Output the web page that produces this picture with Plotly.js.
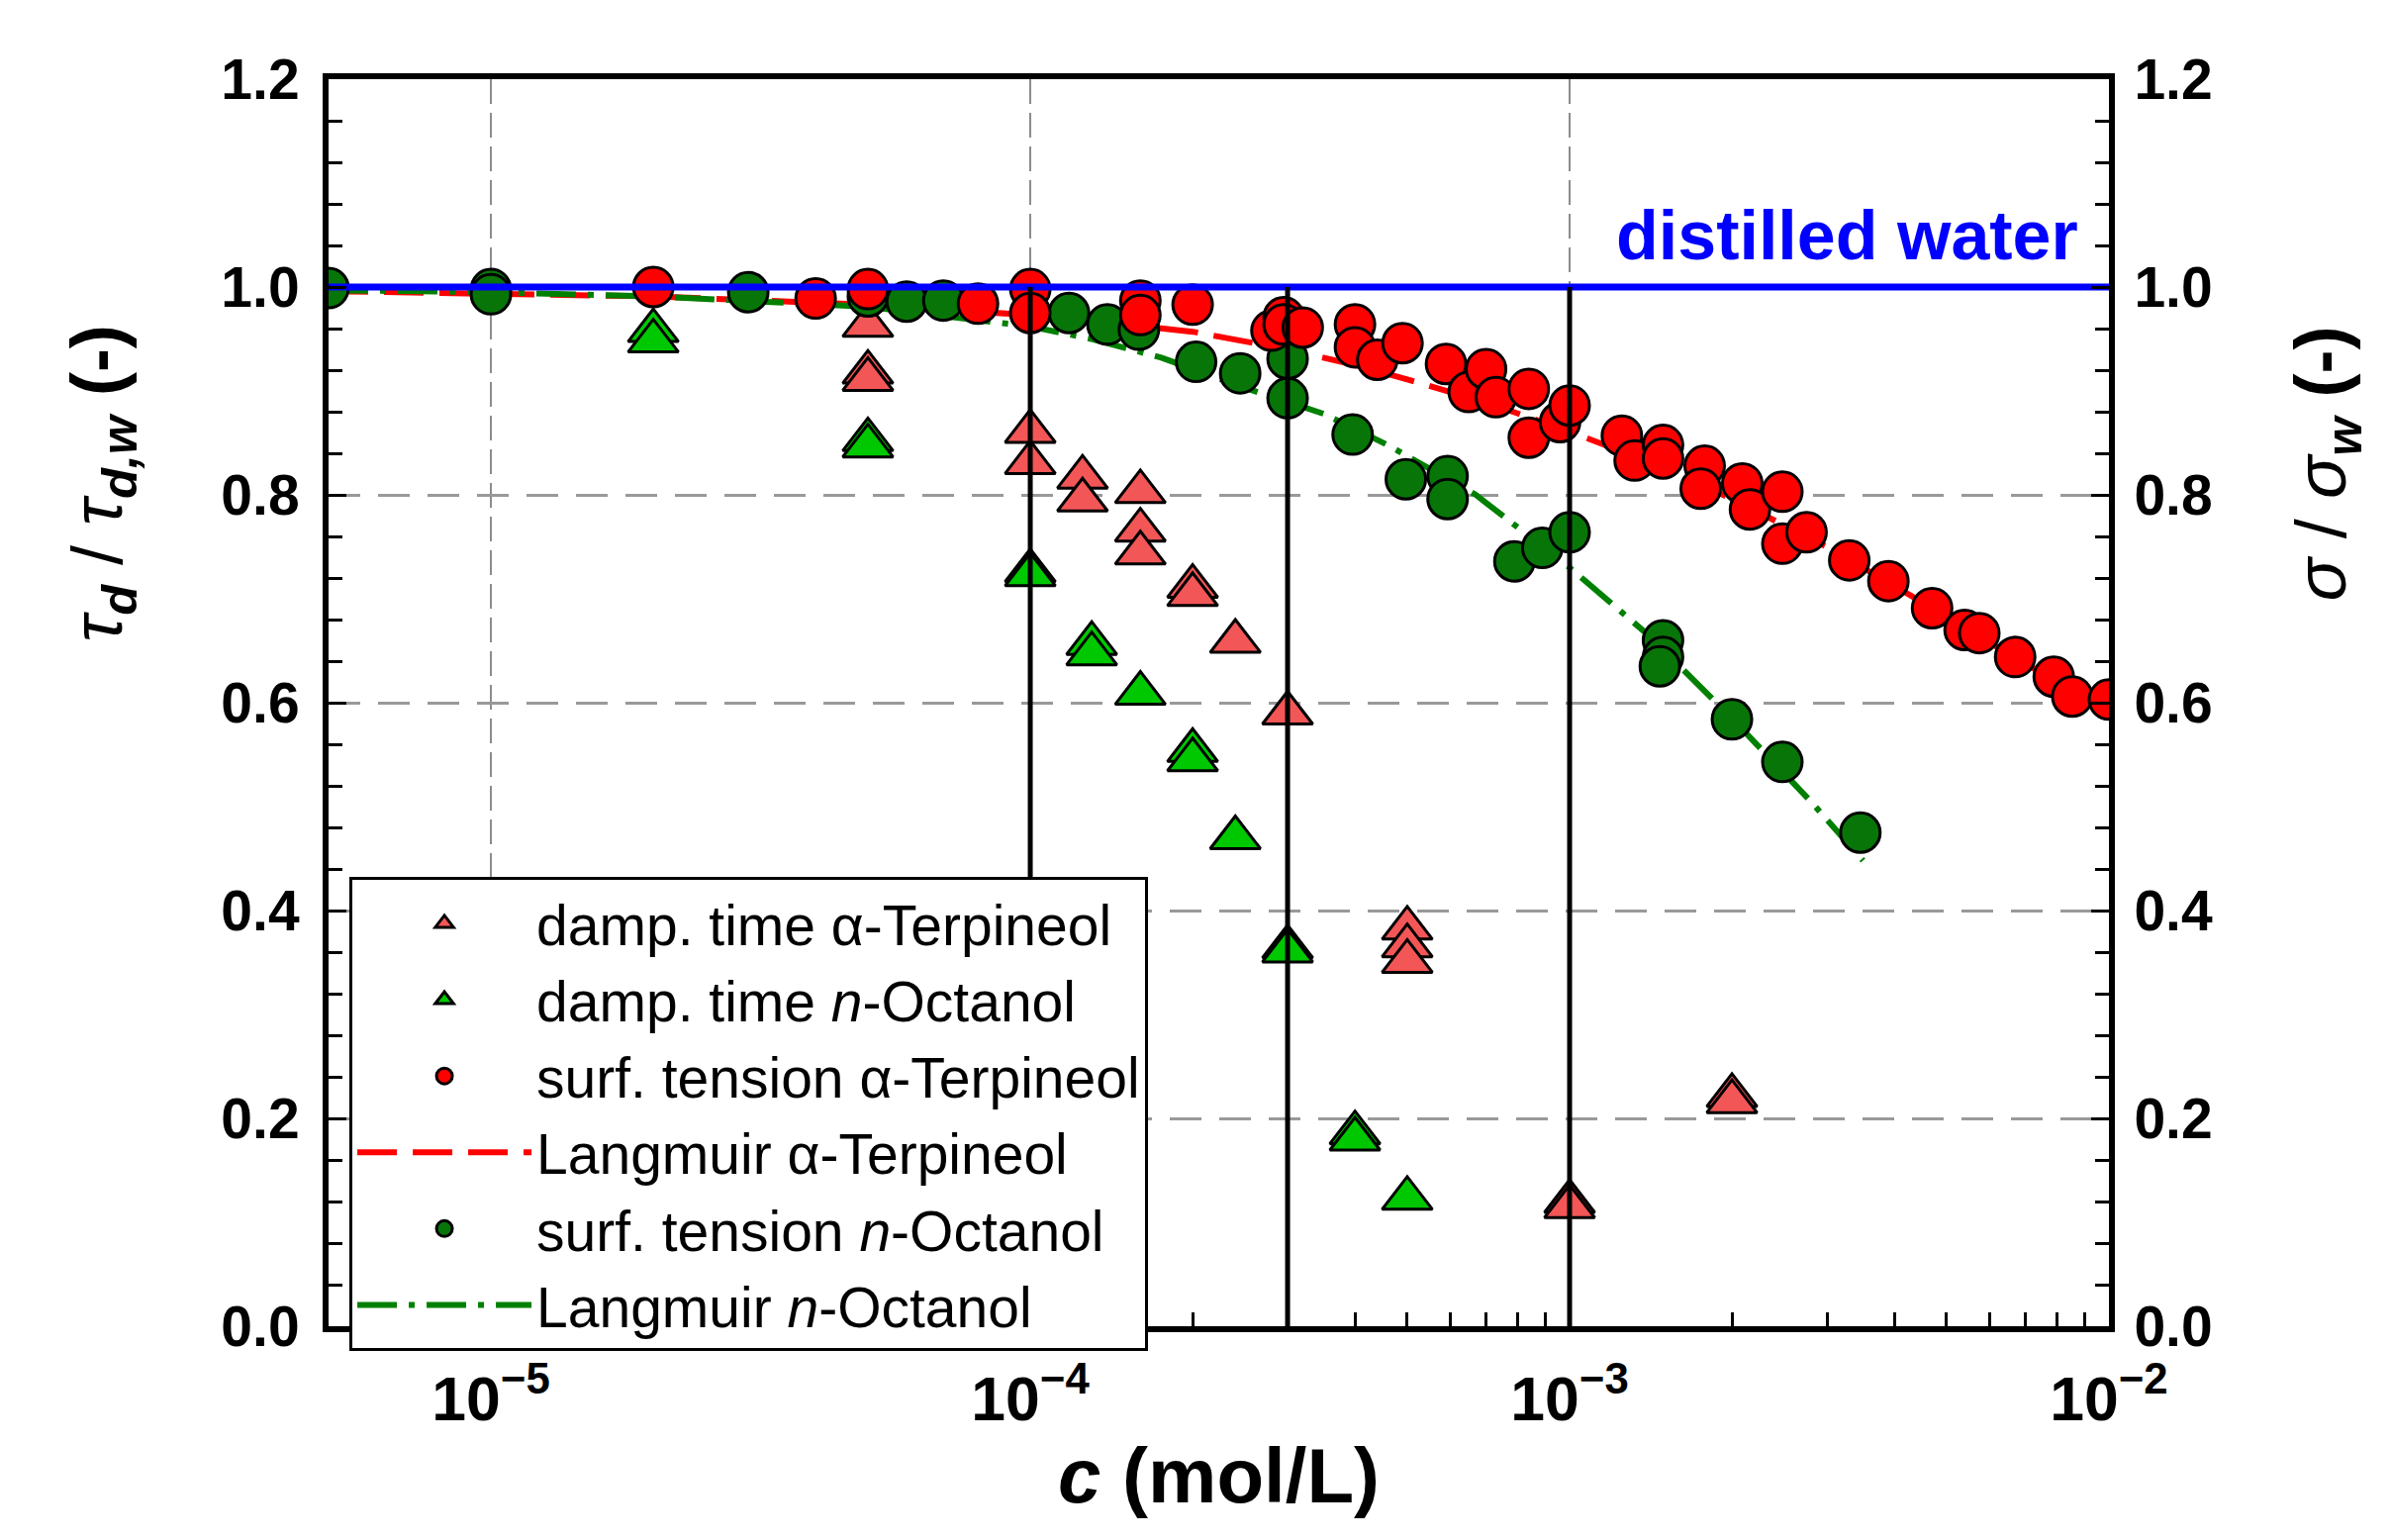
<!DOCTYPE html>
<html>
<head>
<meta charset="utf-8">
<script src="https://cdn.plot.ly/plotly-3.0.1.min.js"></script>
<style>
  html, body { margin: 0; padding: 0; background: #fff; }
  #chart { width: 2416px; height: 1556px; }
</style>
</head>
<body>
<div id="chart"></div>
<script>
// damping time, alpha-Terpineol (left axis)
var dampTerpC = [5e-5, 5e-5, 5e-5, 1e-4, 1e-4, 1.25e-4, 1.25e-4, 1.6e-4, 1.6e-4, 1.6e-4,
                 2e-4, 2e-4, 2.4e-4, 3e-4, 5e-4, 5e-4, 5e-4, 1e-3, 1e-3, 2e-3, 2e-3];
var dampTerpY = [0.963, 0.918, 0.911, 0.861, 0.831, 0.817, 0.795, 0.803, 0.766, 0.744,
                 0.712, 0.704, 0.659, 0.590, 0.383, 0.366, 0.351, 0.120, 0.115, 0.222, 0.216];

// damping time, n-Octanol (left axis)
var dampOctC = [2e-5, 2e-5, 5e-5, 5e-5, 1e-4, 1e-4, 1.3e-4, 1.3e-4, 1.6e-4, 2e-4, 2e-4,
                2.4e-4, 3e-4, 3e-4, 4e-4, 4e-4, 5e-4];
var dampOctY = [0.958, 0.948, 0.853, 0.847, 0.727, 0.723, 0.657, 0.647, 0.609, 0.554, 0.545,
                0.470, 0.365, 0.361, 0.186, 0.180, 0.123];

// surface tension, alpha-Terpineol (right axis)
var surfTerpC = [2e-5, 4e-5, 5e-5, 8e-5, 1e-4, 1e-4, 1.6e-4, 1.6e-4, 2e-4, 2.8e-4,
                 2.95e-4, 2.95e-4, 3.2e-4, 4e-4, 4e-4, 4.4e-4, 4.9e-4, 5.9e-4, 6.5e-4, 7e-4,
                 7.3e-4, 8.4e-4, 8.4e-4, 9.6e-4, 1e-3, 1.25e-3, 1.32e-3, 1.49e-3, 1.49e-3, 1.78e-3,
                 1.75e-3, 2.09e-3, 2.16e-3, 2.48e-3, 2.48e-3, 2.75e-3, 3.3e-3, 3.9e-3, 4.7e-3, 5.4e-3,
                 5.75e-3, 6.7e-3, 7.9e-3, 8.55e-3, 1e-2];
var surfTerpY = [1.000, 0.989, 0.998, 0.984, 0.998, 0.975, 0.987, 0.973, 0.983, 0.958,
                 0.971, 0.964, 0.961, 0.964, 0.942, 0.930, 0.946, 0.926, 0.899, 0.921,
                 0.894, 0.902, 0.855, 0.870, 0.886, 0.857, 0.833, 0.848, 0.835, 0.828,
                 0.806, 0.811, 0.786, 0.803, 0.753, 0.764, 0.737, 0.717, 0.691, 0.670,
                 0.667, 0.644, 0.625, 0.606, 0.603];

// surface tension, n-Octanol (right axis)
var surfOctC = [5e-6, 1e-5, 1e-5, 3e-5, 5e-5, 5.9e-5, 6.9e-5, 1.18e-4, 1.39e-4, 1.59e-4,
                2.03e-4, 2.45e-4, 3e-4, 3e-4, 3.96e-4, 4.97e-4, 5.94e-4, 5.94e-4, 7.9e-4, 8.9e-4,
                1e-3, 1.49e-3, 1.49e-3, 1.47e-3, 2e-3, 2.48e-3, 3.46e-3];
var surfOctY = [0.999, 0.998, 0.993, 0.995, 0.991, 0.986, 0.987, 0.975, 0.964, 0.959,
                0.928, 0.917, 0.931, 0.893, 0.858, 0.815, 0.818, 0.796, 0.736, 0.749,
                0.764, 0.660, 0.644, 0.635, 0.584, 0.543, 0.475];

// Langmuir fits (right axis)
var langTerpC = [5e-6, 1e-5, 2e-5, 5e-5, 1e-4, 1.5e-4, 2e-4, 3e-4, 4e-4, 5e-4,
                 7e-4, 1e-3, 1.5e-3, 2e-3, 3e-3, 5e-3, 7e-3, 1e-2];
var langTerpY = [0.996, 0.994, 0.991, 0.983, 0.973, 0.964, 0.957, 0.940, 0.925, 0.911,
                 0.889, 0.861, 0.826, 0.796, 0.750, 0.683, 0.637, 0.597];
var langOctC = [5e-6, 1e-5, 2e-5, 5e-5, 1e-4, 1.3e-4, 1.75e-4, 2.5e-4, 3.5e-4, 4.6e-4,
                6.7e-4, 1e-3, 1.4e-3, 2e-3, 2.8e-3, 3.5e-3];
var langOctY = [0.997, 0.995, 0.991, 0.981, 0.962, 0.950, 0.932, 0.903, 0.878, 0.848,
                0.800, 0.730, 0.665, 0.585, 0.505, 0.448];

// reference lines
var waterC = [5e-6, 1e-2];
var waterY = [1, 1];
var markC = [1e-4, 3e-4, 1e-3];
var markTop = 1.0;

var FONT = "Liberation Sans, Arial, Helvetica, sans-serif";

var vx = [], vy = [];
for (var i = 0; i < markC.length; i++) {
    vx.push(markC[i], markC[i], null);
    vy.push(0, markTop, null);
}

var triSize = 44, circSize = 40;

var traces = [
    {
        x: dampTerpC, y: dampTerpY, type: 'scatter', mode: 'markers',
        name: 'damp. time α-Terpineol', legendrank: 1, yaxis: 'y',
        marker: {symbol: 'triangle-up', size: triSize, color: '#f25656', line: {color: '#000', width: 3}}
    },
    {
        x: dampOctC, y: dampOctY, type: 'scatter', mode: 'markers',
        name: 'damp. time <i>n</i>-Octanol', legendrank: 2, yaxis: 'y',
        marker: {symbol: 'triangle-up', size: triSize, color: '#00c800', line: {color: '#000', width: 3}}
    },
    {
        x: langTerpC, y: langTerpY, type: 'scatter', mode: 'lines',
        name: 'Langmuir α-Terpineol', legendrank: 4, yaxis: 'y2',
        line: {color: '#ff0000', width: 6, dash: '40px,16px'}
    },
    {
        x: langOctC, y: langOctY, type: 'scatter', mode: 'lines',
        name: 'Langmuir <i>n</i>-Octanol', legendrank: 6, yaxis: 'y2',
        line: {color: '#008000', width: 6, dash: '40px,12px,6px,12px'}
    },
    {
        x: surfOctC, y: surfOctY, type: 'scatter', mode: 'markers',
        name: 'surf. tension <i>n</i>-Octanol', legendrank: 5, yaxis: 'y2',
        marker: {symbol: 'circle', size: circSize, color: '#087508', line: {color: '#000', width: 3}}
    },
    {
        x: surfTerpC, y: surfTerpY, type: 'scatter', mode: 'markers',
        name: 'surf. tension α-Terpineol', legendrank: 3, yaxis: 'y2',
        marker: {symbol: 'circle', size: circSize, color: '#ff0000', line: {color: '#000', width: 3}}
    },
    {
        x: waterC, y: waterY, type: 'scatter', mode: 'lines', showlegend: false, yaxis: 'y2',
        line: {color: '#0000ff', width: 7}
    },
    {
        x: vx, y: vy, type: 'scatter', mode: 'lines', showlegend: false, yaxis: 'y2',
        line: {color: '#000', width: 5}
    }
];

var tickFont = {family: FONT, size: 57, color: '#000', weight: 'bold'};

var layout = {
    width: 2416,
    height: 1556,
    margin: {l: 332, r: 285, t: 80, b: 216},
    paper_bgcolor: '#fff',
    plot_bgcolor: '#fff',
    showlegend: true,
    hovermode: false,
    font: {family: FONT, color: '#000'},
    xaxis: {
        type: 'log',
        range: [Math.log10(5e-6), -2],
        tickmode: 'linear', tick0: 0, dtick: 1,
        exponentformat: 'power',
        ticks: 'inside', ticklen: 16, tickwidth: 3, tickcolor: '#000',
        minor: {dtick: 'D1', ticks: 'inside', ticklen: 14, tickwidth: 3, tickcolor: '#000', showgrid: false},
        ticklabelstandoff: 16,
        tickfont: {family: FONT, size: 50, color: '#000', weight: 'bold'},
        showline: true, linewidth: 6, linecolor: '#000', mirror: true,
        showgrid: true, gridcolor: '#8c8c8c', gridwidth: 2, griddash: '25px,9px',
        zeroline: false,
        title: {text: '<i>c</i> (mol/L)', font: {family: FONT, size: 78, color: '#000', weight: 'bold'}, standoff: 0}
    },
    yaxis: {
        range: [0, 1.2],
        dtick: 0.2, tick0: 0,
        tickformat: '.1f',
        ticks: 'inside', ticklen: 18, tickwidth: 3, tickcolor: '#000',
        minor: {dtick: 0.04, ticks: 'inside', ticklen: 14, tickwidth: 3, tickcolor: '#000', showgrid: false},
        ticklabelstandoff: 12,
        tickfont: tickFont,
        showline: true, linewidth: 6, linecolor: '#000',
        showgrid: true, gridcolor: '#999', gridwidth: 3, griddash: '32px,18px',
        zeroline: false
    },
    yaxis2: {
        overlaying: 'y', side: 'right', anchor: 'x',
        range: [0, 1.2],
        dtick: 0.2, tick0: 0,
        tickformat: '.1f',
        ticks: 'inside', ticklen: 18, tickwidth: 3, tickcolor: '#000',
        minor: {dtick: 0.04, ticks: 'inside', ticklen: 14, tickwidth: 3, tickcolor: '#000', showgrid: false},
        ticklabelstandoff: 8,
        tickfont: tickFont,
        showline: true, linewidth: 6, linecolor: '#000',
        showgrid: false, zeroline: false
    },
    legend: {
        x: 0.0117, y: 0.360, xanchor: 'left', yanchor: 'top',
        bgcolor: '#fff', bordercolor: '#000', borderwidth: 3,
        font: {family: FONT, size: 57, color: '#000'},
        itemwidth: 176, tracegroupgap: 0,
        traceorder: 'normal'
    },
    annotations: [
        {
            xref: 'paper', yref: 'paper', x: 0.984, y: 0.875,
            xanchor: 'right', yanchor: 'middle', showarrow: false,
            text: 'distilled water',
            font: {family: FONT, size: 70, color: '#0000ff', weight: 'bold'}
        },
        {
            xref: 'paper', yref: 'paper', x: -0.127, y: 0.676,
            xanchor: 'center', yanchor: 'middle', showarrow: false, textangle: -90,
            text: '<i>τ</i><sub><i><b>d</b></i></sub> / <i>τ</i><sub><i><b>d,w</b></i></sub> <b>(-)</b>',
            font: {family: FONT, size: 72, color: '#000'}
        },
        {
            xref: 'paper', yref: 'paper', x: 1.122, y: 0.692,
            xanchor: 'center', yanchor: 'middle', showarrow: false, textangle: -90,
            text: '<i>σ</i> / <i>σ</i><sub><i><b>w</b></i></sub> <b>(-)</b>',
            font: {family: FONT, size: 72, color: '#000'}
        }
    ]
};

Plotly.newPlot('chart', traces, layout, {displayModeBar: false, staticPlot: true});
</script>
</body>
</html>
